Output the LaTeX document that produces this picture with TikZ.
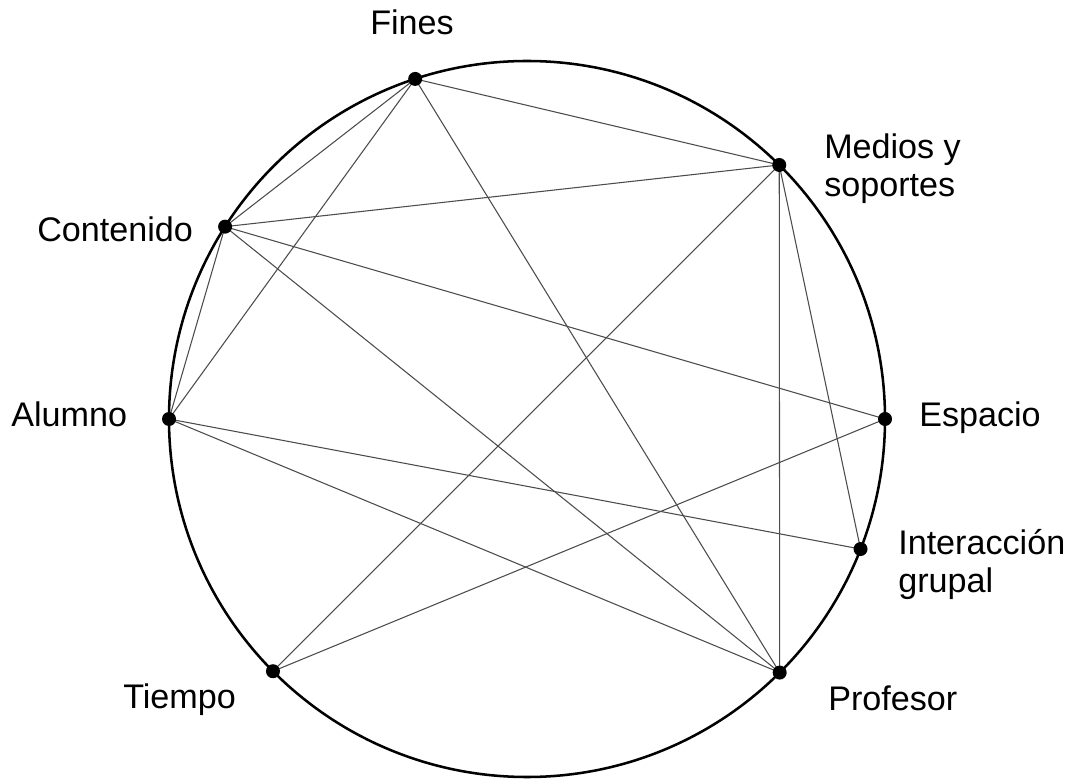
\documentclass[tikz,border=0pt]{standalone}
\usepackage{fontspec}
\setmainfont{Liberation Sans}
\usetikzlibrary{calc}
\begin{document}
\begin{tikzpicture}[x=0.75pt,y=0.75pt,
  ring/.style={line width=1.9pt,black},
  link/.style={line width=0.8pt,black!70},
  dot/.style={circle,fill=black,inner sep=0pt,minimum size=10.5pt},
  lbl/.style={anchor=base west,inner sep=0pt,align=left,
    font=\fontsize{25.6pt}{28.5pt}\selectfont}]
\useasboundingbox (0,0) rectangle (1069,778);
\coordinate (c) at (527,359);
\draw[ring] (c) circle[radius=358];

% points on the ring
\foreach \n/\a in {fin/108.2, med/45.2, con/147.5, alu/180,
                   esp/0, int/-21.3, tie/224.8, pro/-45.1}
  \coordinate (\n) at ($(c)+(\a:358)$);

% links between the elements
\draw[link] (fin) -- (med);
\draw[link] (fin) -- (con);
\draw[link] (fin) -- (alu);
\draw[link] (fin) -- (pro);
\draw[link] (med) -- (con);
\draw[link] (med) -- (tie);
\draw[link] (med) -- (pro);
\draw[link] (med) -- (int);
\draw[link] (con) -- (alu);
\draw[link] (con) -- (esp);
\draw[link] (con) -- (pro);
\draw[link] (alu) -- (int);
\draw[link] (alu) -- (pro);
\draw[link] (esp) -- (tie);

% dots
\foreach \n in {fin,med,con,alu,esp,int,tie,pro}
  \node[dot] (d\n) at (\n) {};

% labels
\node[lbl] (tfin) at (370,743) {Fines};
\node[lbl] (tmed) at (824,581) {Medios y\\soportes};
\node[lbl] (tcon) at (37,536) {Contenido};
\node[lbl] (talu) at (11,351) {Alumno};
\node[lbl] (tesp) at (919,351) {Espacio};
\node[lbl] (tint) at (898,186) {Interacción\\grupal};
\node[lbl] (ttie) at (123,70) {Tiempo};
\node[lbl] (tpro) at (828,68) {Profesor};
\end{tikzpicture}
\end{document}
